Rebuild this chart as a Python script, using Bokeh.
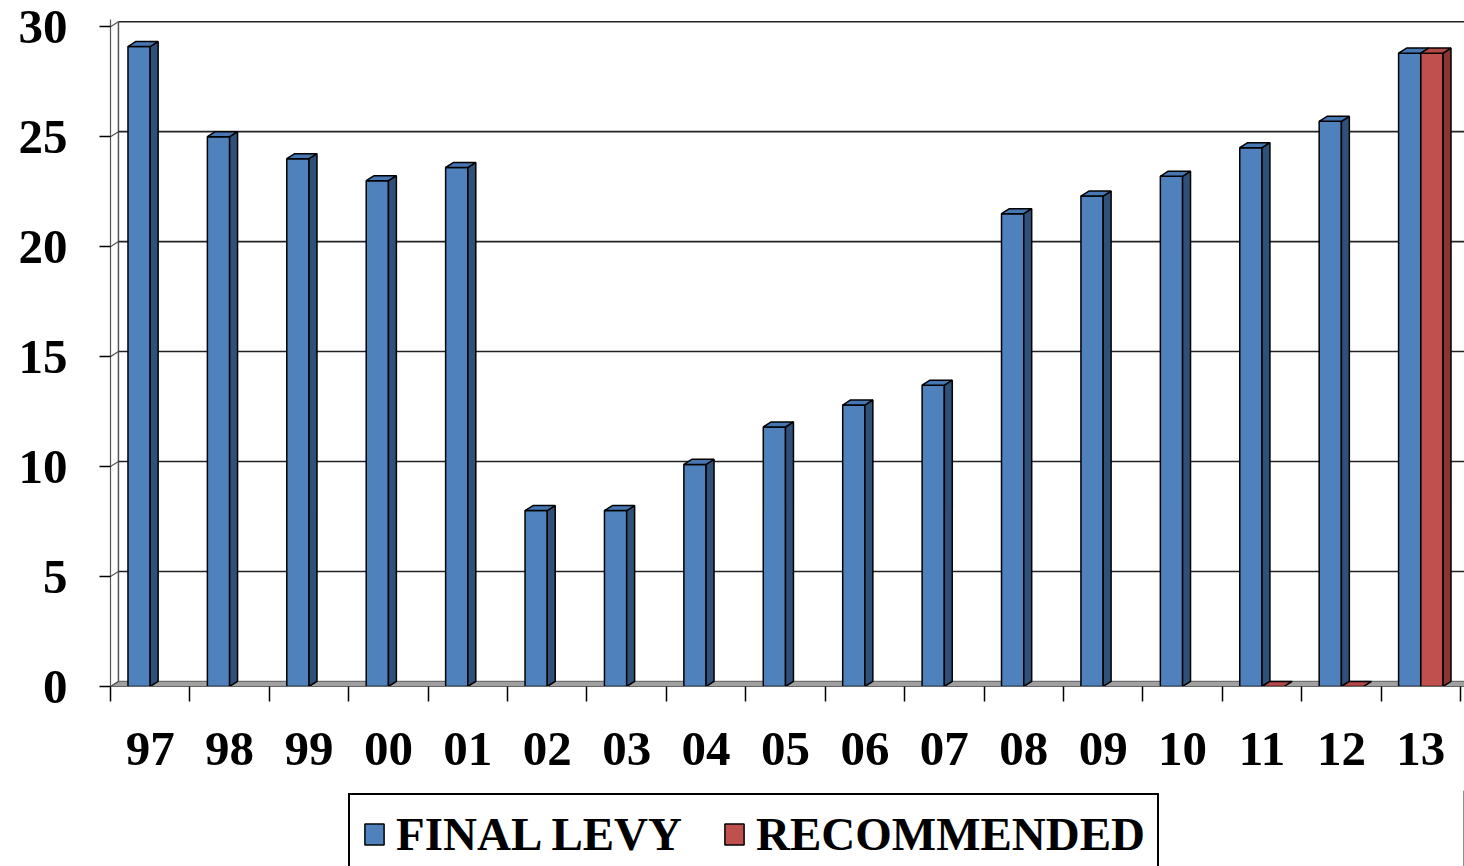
from bokeh.plotting import figure
from bokeh.layouts import column
from bokeh.models import FixedTicker, Legend, LegendItem, Range1d
from bokeh.embed import file_html
from bokeh.resources import INLINE

# ---- data ----
YEARS = ["97", "98", "99", "00", "01", "02", "03", "04", "05", "06",
         "07", "08", "09", "10", "11", "12", "13"]
FINAL_LEVY = [29.1, 25.0, 24.0, 23.0, 23.6, 8.0, 8.0, 10.1, 11.8, 12.8,
              13.7, 21.5, 22.3, 23.2, 24.5, 25.7, 28.8]
RECOMMENDED = [None, None, None, None, None, None, None, None, None, None,
               None, None, None, None, 0.0, 0.0, 28.8]
Y_TICKS = [0, 5, 10, 15, 20, 25, 30]
SERIES = ["FINAL LEVY", "RECOMMENDED"]

# ---- style constants ----
FONT = "Liberation Serif"
BAR_W = 0.28          # width of one bar in category units
OFF = 0.14            # dodge offset
DX = 0.10             # 3D depth (x, category units)
DY = 0.23             # 3D depth (y, value units)
BLUE = ("#4F81BD", "#2F5079", "#4677B3")   # front, side, top
RED = ("#C0504D", "#8A3532", "#B44946")

n = len(YEARS)
xs = list(range(n))

p = figure(width=1464, height=790, output_backend="svg", toolbar_location=None,
           x_range=Range1d(-0.5, 16.55), y_range=Range1d(0, 30 + DY + 0.1),
           min_border_left=110, min_border_right=0, min_border_top=19,
           min_border_bottom=104)
p.outline_line_color = None
p.xgrid.visible = False
p.ygrid.visible = False

# floor
p.patch([-0.5, 16.7, 16.7 + DX, -0.5 + DX], [0, 0, DY, DY],
        fill_color="#A0A0A0", line_color="#6F6F6F", line_width=1.2)
# back wall left edge
p.segment(x0=[-0.5 + DX], y0=[DY], x1=[-0.5 + DX], y1=[30 + DY],
          line_color="#555555", line_width=1.5)
# gridlines on back wall + connectors on the side wall
gy = [t + DY for t in Y_TICKS if t > 0]
p.segment(x0=[-0.5 + DX] * len(gy), y0=gy, x1=[16.7] * len(gy), y1=gy,
          line_color="#222222", line_width=1.6)
p.segment(x0=[-0.5] * len(Y_TICKS), y0=Y_TICKS,
          x1=[-0.5 + DX] * len(Y_TICKS), y1=[t + DY for t in Y_TICKS],
          line_color="#555555", line_width=1.2)


def bars3d(cx, vals, cols):
    pts = [(c, v) for c, v in zip(cx, vals) if v is not None]
    tall = [(c, v) for c, v in pts if v > 0]
    p.vbar(x=[c for c, _ in tall], width=BAR_W, bottom=0,
           top=[v for _, v in tall], fill_color=cols[0],
           line_color="black", line_width=1.5)
    sx, sy, tx, ty = [], [], [], []
    for c, v in pts:
        xl, xr = c - BAR_W / 2, c + BAR_W / 2
        if v > 0:
            sx.append([xr, xr + DX, xr + DX, xr])
            sy.append([0, DY, v + DY, v])
        tx.append([xl, xr, xr + DX, xl + DX])
        ty.append([v, v, v + DY, v + DY])
    if sx:
        p.patches(sx, sy, fill_color=cols[1], line_color="black", line_width=1.5)
    p.patches(tx, ty, fill_color=cols[2], line_color="black", line_width=1.5)


bars3d([x - OFF for x in xs], FINAL_LEVY, BLUE)
bars3d([x + OFF for x in xs], RECOMMENDED, RED)

# axes
p.yaxis.ticker = FixedTicker(ticks=Y_TICKS)
p.yaxis.axis_line_color = "#555555"
p.yaxis.axis_line_width = 1.2
p.yaxis.major_tick_out = 11
p.yaxis.major_tick_in = 0
p.yaxis.major_tick_line_width = 1.5
p.yaxis.minor_tick_line_color = None
p.yaxis.major_label_standoff = 32
p.yaxis.major_label_text_font = FONT
p.yaxis.major_label_text_font_style = "bold"
p.yaxis.major_label_text_font_size = "49px"
p.yaxis.major_label_text_color = "black"

p.xaxis.ticker = FixedTicker(ticks=xs, minor_ticks=[x - 0.5 for x in xs] + [n - 0.5])
p.xaxis.major_label_overrides = {i: lab for i, lab in enumerate(YEARS)}
p.xaxis.axis_line_color = "#666666"
p.xaxis.axis_line_width = 1.2
p.xaxis.major_tick_line_color = None
p.xaxis.major_tick_out = 0
p.xaxis.major_tick_in = 0
p.xaxis.minor_tick_out = 15
p.xaxis.minor_tick_in = 0
p.xaxis.minor_tick_line_color = "black"
p.xaxis.minor_tick_line_width = 1.5
p.xaxis.major_label_standoff = 31
p.xaxis.major_label_text_font = FONT
p.xaxis.major_label_text_font_style = "bold"
p.xaxis.major_label_text_font_size = "49px"
p.xaxis.major_label_text_color = "black"

# legend strip below the chart (swatch renderers sit outside the visible range)
q = figure(width=1464, height=76, output_backend="svg", toolbar_location=None,
           x_range=Range1d(0, 1), y_range=Range1d(0, 1),
           x_axis_location=None, y_axis_location=None,
           min_border_left=0, min_border_right=0, min_border_top=0,
           min_border_bottom=0)
q.outline_line_color = None
q.xgrid.visible = False
q.ygrid.visible = False
lr_blue = q.vbar(x=[5], top=[1], width=0.1, fill_color=BLUE[0],
                 line_color="black", line_width=1.5)
lr_red = q.vbar(x=[5], top=[1], width=0.1, fill_color=RED[0],
                line_color="black", line_width=1.5)
legend = Legend(items=[LegendItem(label=SERIES[0], renderers=[lr_blue]),
                       LegendItem(label=SERIES[1], renderers=[lr_red])],
                orientation="horizontal", location=(238, -9),
                label_text_font=FONT, label_text_font_style="bold",
                label_text_font_size="47px", label_text_color="black",
                glyph_width=24, glyph_height=26, label_standoff=10,
                spacing=40, padding=12, margin=0,
                border_line_color="black", border_line_width=2,
                border_line_alpha=1.0,
                background_fill_alpha=1.0)
q.add_layout(legend, "center")

open("out.html", "w").write(file_html(column(p, q, spacing=0), INLINE))
